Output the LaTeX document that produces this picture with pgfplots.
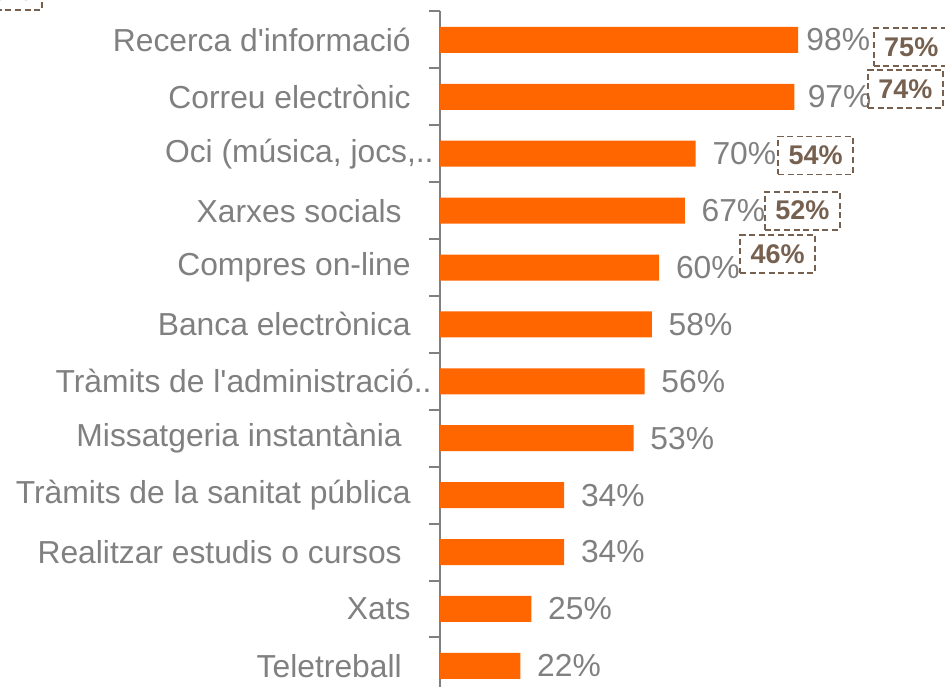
\documentclass[border=0pt]{standalone}
\usepackage{fontspec}
\setmainfont{Liberation Sans}
\usepackage{pgfplots}
\pgfplotsset{compat=1.18}
\definecolor{barorange}{HTML}{FF6600}
\definecolor{txtgray}{HTML}{808080}
\definecolor{boxbrown}{HTML}{76604F}
\newcommand{\lab}{\fontsize{15.9}{18}\selectfont}
\begin{document}
\begin{tikzpicture}
\begin{axis}[
  scale only axis,
  width=182.65pt, height=341.4pt,
  xmin=0, xmax=100,
  ymin=-0.5, ymax=11.5,
  y dir=reverse,
  axis x line=none,
  axis y line*=left,
  axis line style={txtgray, line width=1pt},
  ytick={0,...,11},
  yticklabels={
    Recerca d\textquotesingle informació,
    Correu electrònic,
    {Oci (música, jocs,..\hspace*{-11.5pt}},
    Xarxes socials\hspace*{0.28em},
    Compres on-line,
    Banca electrònica,
    {Tràmits de l\textquotesingle administració..\hspace*{-10.5pt}},
    Missatgeria instantània\hspace*{0.28em},
    Tràmits de la sanitat pública,
    Realitzar estudis o cursos\hspace*{0.28em},
    Xats,
    Teletreball\hspace*{0.28em}},
  major tick length=0pt,
  minor ytick={-0.5,0.5,...,10.5},
  minor tick length=5.5pt,
  tick align=outside,
  tick style={txtgray, line width=1pt},
  yticklabel style={font=\lab, text=txtgray, anchor=east, inner sep=0pt, xshift=-14.5pt},
  clip=false,
]
% usage share (bars)
\addplot[xbar, bar width=13pt, fill=barorange, draw=none]
  coordinates {
  (98,0) (97,1) (70,2) (67,3) (60,4) (58,5)
  (56,6) (53,7) (34,8) (34,9) (25,10) (22,11)
  };
% value labels, placed just right of each bar
\addplot[draw=none, mark=none,
  point meta=explicit symbolic, nodes near coords,
  every node near coord/.append style={font=\lab, text=txtgray, anchor=west, inner sep=0pt}]
  coordinates {
  (100.19,0) [98\%]
  (100.56,1) [97\%]
  (74.5,2) [70\%]
  (71.5,3) [67\%]
  (64.5,4) [60\%]
  (62.5,5) [58\%]
  (60.5,6) [56\%]
  (57.5,7) [53\%]
  (38.5,8) [34\%]
  (38.5,9) [34\%]
  (29.5,10) [25\%]
  (26.5,11) [22\%]
  };
% second series (dashed boxes)
\addplot[draw=none, mark=none,
  point meta=explicit symbolic, nodes near coords,
  every node near coord/.append style={font=\fontsize{13.5}{15}\selectfont\bfseries, text=boxbrown,
    draw=boxbrown, line width=0.9pt, dash pattern=on 3pt off 1.8pt,
    anchor=center, inner sep=0pt, minimum width=37.5pt, minimum height=19pt}]
  coordinates {
  (-119.2,-0.86) [69\%]
  (129,0.13) [75\%]
  (127.4,0.86) [74\%]
  (102.8,2.03) [54\%]
  (99.2,3.0) [52\%]
  (92.4,3.76) [46\%]
  };
\coordinate (bl) at (axis cs:-120.45,11.371);
\coordinate (tr) at (axis cs:138.24,-0.702);
\end{axis}
\pgfresetboundingbox
\path[use as bounding box] (bl) rectangle (tr);
\end{tikzpicture}
\end{document}
